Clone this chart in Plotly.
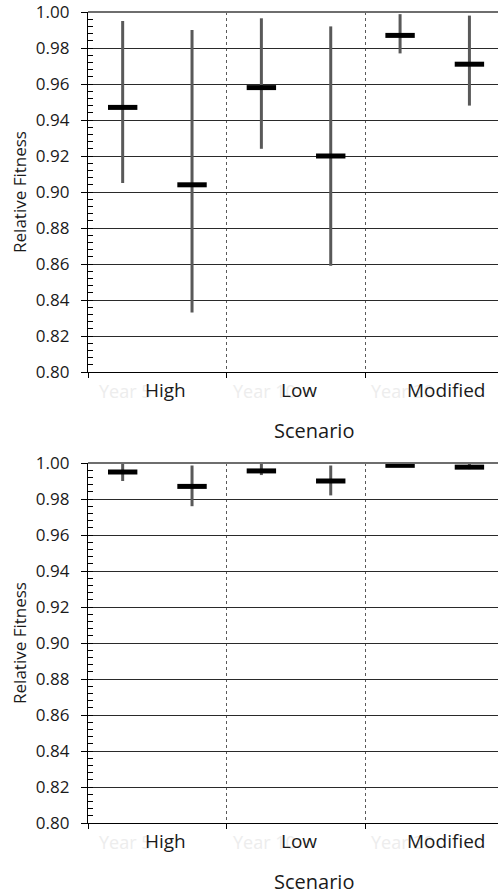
import plotly.graph_objects as go

# ---------------- data ----------------
scenarios = ["High", "Low", "Modified"]
year_labels = ["Year 5", "Year 10", "Year 20"]

# top panel (two series per scenario)
top_a_mean = [0.947, 0.958, 0.987]
top_a_lo = [0.905, 0.924, 0.977]
top_a_hi = [0.995, 0.9965, 0.9988]
top_b_mean = [0.904, 0.920, 0.971]
top_b_lo = [0.833, 0.859, 0.948]
top_b_hi = [0.990, 0.992, 0.998]

# bottom panel
bot_a_mean = [0.995, 0.9956, 0.9987]
bot_a_lo = [0.990, 0.9933, 0.9978]
bot_a_hi = [1.000, 1.000, 1.000]
bot_b_mean = [0.987, 0.990, 0.9977]
bot_b_lo = [0.976, 0.982, 0.9966]
bot_b_hi = [0.9986, 0.9986, 0.9995]

y_ticks = [0.80, 0.82, 0.84, 0.86, 0.88, 0.90, 0.92, 0.94, 0.96, 0.98, 1.00]

FONT = "Open Sans"
WHISKER = "#595959"

fig = go.Figure()


def add_series(mean, lo, hi, offset, xa, ya):
    xs = [i + offset for i in range(len(scenarios))]
    fig.add_trace(go.Scatter(
        x=xs, y=mean, mode="markers", xaxis=xa, yaxis=ya, showlegend=False,
        marker=dict(symbol="line-ew", size=21, color="black",
                    line=dict(width=5, color="black")),
        error_y=dict(type="data", symmetric=False,
                     array=[h - m for h, m in zip(hi, mean)],
                     arrayminus=[m - l for m, l in zip(mean, lo)],
                     color=WHISKER, thickness=3, width=0),
        hoverinfo="y",
    ))


add_series(top_a_mean, top_a_lo, top_a_hi, -0.25, "x", "y")
add_series(top_b_mean, top_b_lo, top_b_hi, 0.25, "x", "y")
add_series(bot_a_mean, bot_a_lo, bot_a_hi, -0.25, "x2", "y2")
add_series(bot_b_mean, bot_b_lo, bot_b_hi, 0.25, "x2", "y2")

W, H = 498, 894
ml, mr, mt, mb = 88, 0, 12, 71
plot_h = H - mt - mb
top_dom = [(823 - 372) / plot_h, 1.0]
bot_dom = [0.0, (823 - 463) / plot_h]

xr = [-0.5, -0.5 + (W - ml) / 138.7]


def xaxis(anchor):
    return dict(
        anchor=anchor, range=xr, domain=[0, 1],
        tickmode="array", tickvals=[-0.5, 0.5, 1.5, 2.5],
        showticklabels=False, ticks="outside", ticklen=5, tickwidth=1,
        tickcolor="black",
        showgrid=True, gridcolor="#5a5a5a", gridwidth=1, griddash="dot",
        showline=True, linecolor="black", linewidth=1.3,
        zeroline=False, fixedrange=True,
    )


def yaxis(anchor, domain):
    return dict(
        anchor=anchor, domain=domain, range=[0.8, 1.0],
        tickmode="array", tickvals=y_ticks,
        ticktext=[f"{v:.2f}" for v in y_ticks],
        ticks="outside", ticklen=6, tickwidth=1, tickcolor="black",
        ticklabelstandoff=8, ticklabeloverflow="allow",
        tickfont=dict(family=FONT, size=17, color="#1a1a1a"),
        showgrid=True, gridcolor="#2a2a2a", gridwidth=1.2,
        showline=True, linecolor="black", linewidth=1.3,
        zeroline=False, fixedrange=True,
        minor=dict(dtick=0.004, tick0=0.8, ticks="inside", ticklen=5,
                   tickwidth=1, tickcolor="black", showgrid=False),
        title=dict(text="Relative Fitness",
                   font=dict(family=FONT, size=17, color="#1a1a1a"),
                   standoff=4),
    )


annotations = []
shapes = []
label_x = [0.06, 1.02, 2.08]
year_x = [-0.23, 0.77, 1.77]
for xa, dom, axis_px in (("x", top_dom, 372), ("x2", bot_dom, 823)):
    for i, name in enumerate(scenarios):
        annotations.append(dict(
            x=year_x[i], xref=xa, y=1 - (axis_px + 19 - mt) / plot_h,
            yref="paper", text=year_labels[i], showarrow=False,
            font=dict(family=FONT, size=18, color="#ededed"),
            xanchor="center", yanchor="middle"))
        annotations.append(dict(
            x=label_x[i], xref=xa, y=1 - (axis_px + 18 - mt) / plot_h,
            yref="paper", text=name, showarrow=False,
            font=dict(family=FONT, size=19, color="#1a1a1a"),
            xanchor="center", yanchor="middle"))
    annotations.append(dict(
        x=0.5 + 0.05, xref=xa + " domain",
        y=1 - (axis_px + 58 - mt) / plot_h, yref="paper",
        text="Scenario", showarrow=False,
        font=dict(family=FONT, size=20, color="#1a1a1a"),
        xanchor="center", yanchor="middle"))
    shapes.append(dict(type="line", xref=xa + " domain", yref="paper",
                       x0=0, x1=1, y0=dom[1], y1=dom[1],
                       line=dict(color="#6e6e6e", width=2.2)))

fig.update_layout(
    width=W, height=H,
    margin=dict(l=ml, r=mr, t=mt, b=mb),
    paper_bgcolor="white", plot_bgcolor="white",
    xaxis=xaxis("y"),
    yaxis=yaxis("x", top_dom),
    xaxis2=xaxis("y2"),
    yaxis2=yaxis("x2", bot_dom),
    annotations=annotations,
    shapes=shapes,
    showlegend=False,
)

fig.write_html("out.html")
